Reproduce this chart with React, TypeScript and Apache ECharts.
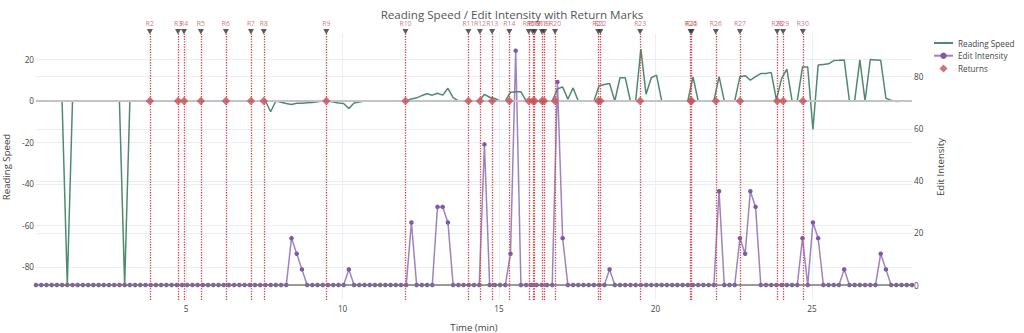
import React, { useEffect, useRef } from 'react';
import * as echarts from 'echarts';

// sampling of the session (minutes)
const startMin = 0.2;
const stepMin = 1 / 6;

const readingSpeed = [
  0, 0, 0, 0, 0, 0, -88.7, 0, 0, 0,
  0, 0, 0, 0, 0, 0, 0, -88.7, 0, 0,
  0, 0, 0, 0, 0, 0, 0, 0, 0, 0,
  0, 0, 0, 0, 0, 0, 0, 0, 0, 0,
  0, 0, 0, 0, 0, -5.2, 0, -0.6, -1.2, -1.7,
  -1.1, -1.1, -0.9, -0.8, -0.4, 0, 0, -0.5, -1, -1.2,
  -3.6, -1, -0.5, 0, 0, 0, 0, 0, 0, 0,
  0, 0, 1, 1.5, 2.6, 3.5, 2.8, 3.7, 2.8, 6.1,
  1.6, 0, 0, 0, 0, 0, 3.2, 1.8, 1.2, 0,
  0, 4.2, 4.4, 4.4, 0, 0, 0, 0, 0, 0,
  5.8, 6.8, 0.8, 6.3, 0, 0, 0, 0, 7.3, 7.9,
  8.4, 0, 11.2, 11.2, 0, 0, 25, 3.2, 11.2, 12.5,
  0, 0, 0, 0, 0, 0, 11.6, 0, 0, 0,
  0, 11.7, 0, 0, 0, 11.7, 12.2, 10, 11.7, 13.2,
  13.2, 13.8, 0.5, 10.9, 15.4, 0, 0, 16.4, 16.4, -13.7,
  17.3, 17.6, 17.9, 19.5, 19.6, 19.8, 0, 0, 19.8, 0,
  20, 19.8, 19.6, 1.3, 0.3, -0.3, 0, 0, 0,
];

const editIntensity = [
  0, 0, 0, 0, 0, 0, 0, 0, 0, 0,
  0, 0, 0, 0, 0, 0, 0, 0, 0, 0,
  0, 0, 0, 0, 0, 0, 0, 0, 0, 0,
  0, 0, 0, 0, 0, 0, 0, 0, 0, 0,
  0, 0, 0, 0, 0, 0, 0, 0, 0, 18,
  12, 6, 0, 0, 0, 0, 0, 0, 0, 0,
  6, 0, 0, 0, 0, 0, 0, 0, 0, 0,
  0, 0, 24, 0, 0, 0, 0, 30, 30, 24,
  0, 0, 0, 0, 0, 0, 54, 0, 0, 0,
  0, 12, 90, 0, 0, 0, 0, 0, 0, 0,
  78, 18, 0, 0, 0, 0, 0, 0, 0, 0,
  6, 0, 0, 0, 0, 0, 0, 0, 0, 0,
  0, 0, 0, 0, 0, 0, 0, 0, 0, 0,
  0, 36, 0, 0, 0, 18, 12, 36, 30, 0,
  0, 0, 0, 0, 0, 0, 0, 18, 0, 24,
  18, 0, 0, 0, 0, 6, 0, 0, 0, 0,
  0, 0, 12, 6, 0, 0, 0, 0, 0,
];

const returnTimes = [
  3.84, 4.74, 4.93, 5.47, 6.27, 7.07, 7.48, 9.48, 12.01, 14.02,
  14.39, 14.78, 15.33, 15.95, 16.08, 16.14, 16.37, 16.44, 16.79, 18.17,
  18.24, 19.51, 21.12, 21.16, 21.93, 22.70, 23.89, 24.08, 24.71,
];
const returnLabels = [
  'R2', 'R3', 'R4', 'R5', 'R6', 'R7', 'R8', 'R9', 'R10', 'R11',
  'R12', 'R13', 'R14', 'R15', 'R16', 'R17', 'R18', 'R19', 'R20', 'R21',
  'R22', 'R23', 'R24', 'R25', 'R26', 'R27', 'R28', 'R29', 'R30',
];

const xTicks = [5, 10, 15, 20, 25];
const leftTicks = [-80, -60, -40, -20, 0, 20];
const rightTicks = [0, 20, 40, 60, 80];

const GREEN = '#4f8a6f';
const PURPLE = '#7d5aa8';
const RED = '#c7525a';
const TEXT = '#444';
const GRID = '#ebeef3';
const FONT = 'Open Sans';

export default function App() {
  const ref = useRef<HTMLDivElement>(null);
  useEffect(() => {
    const chart = echarts.init(ref.current as HTMLDivElement, null, { renderer: 'svg' });
    const times = readingSpeed.map((_, i) => +(startMin + i * stepMin).toFixed(4));
    const xMin = times[0];
    const xMax = times[times.length - 1];

    const option: any = {
      animation: false,
      backgroundColor: '#fff',
      textStyle: { fontFamily: FONT },
      title: {
        text: 'Reading Speed / Edit Intensity with Return Marks',
        left: 'center',
        top: 3,
        textStyle: { fontFamily: FONT, fontSize: 11.6, fontWeight: 'normal', color: '#555' },
      },
      legend: {
        data: [
          { name: 'Reading Speed', itemStyle: { opacity: 0 } },
          { name: 'Edit Intensity' },
          { name: 'Returns', icon: 'path://M4,0L8,4L4,8L0,4Z' },
        ],
        orient: 'vertical',
        left: 933,
        top: 39,
        padding: 0,
        itemWidth: 19,
        itemHeight: 8,
        itemGap: 4.7,
        symbolKeepAspect: true,
        textStyle: { fontFamily: FONT, fontSize: 8.2, color: TEXT },
      },
      grid: [
        { left: 36, right: 112, top: 34, bottom: 33, outerBoundsMode: 'none' },
        { left: 36, right: 112, top: 18, height: 16, outerBoundsMode: 'none' },
      ],
      xAxis: [
        {
          type: 'value',
          gridIndex: 0,
          min: xMin,
          max: xMax,
          axisLine: { show: false },
          axisTick: { show: false, customValues: xTicks },
          axisLabel: { customValues: xTicks, fontSize: 8.2, color: TEXT, margin: 4, fontFamily: FONT },
          splitLine: { show: true, lineStyle: { color: GRID, width: 1 } },
          name: 'Time (min)',
          nameLocation: 'middle',
          nameGap: 22,
          nameTextStyle: { fontSize: 9.6, color: TEXT, fontFamily: FONT },
        },
        {
          type: 'value',
          gridIndex: 1,
          min: xMin,
          max: xMax,
          show: false,
        },
      ],
      yAxis: [
        {
          type: 'value',
          gridIndex: 0,
          min: -96,
          max: 32.3,
          position: 'left',
          axisLine: { show: false },
          axisTick: { show: false, customValues: leftTicks },
          axisLabel: { customValues: leftTicks, fontSize: 8.2, color: TEXT, margin: 2, fontFamily: FONT },
          splitLine: { show: true, lineStyle: { color: GRID, width: 1 } },
          name: 'Reading Speed',
          nameLocation: 'middle',
          nameRotate: 90,
          nameGap: 24,
          nameTextStyle: { fontSize: 9.6, color: TEXT, fontFamily: FONT },
        },
        {
          type: 'value',
          gridIndex: 0,
          min: -5.76,
          max: 96.4,
          position: 'right',
          axisLine: { show: false },
          axisTick: { show: false, customValues: rightTicks },
          axisLabel: { customValues: rightTicks, fontSize: 8.2, color: TEXT, margin: 2, fontFamily: FONT },
          splitLine: { show: true, lineStyle: { color: GRID, width: 1 } },
          name: 'Edit Intensity',
          nameLocation: 'middle',
          nameRotate: 90,
          nameGap: 23,
          nameTextStyle: { fontSize: 9.6, color: TEXT, fontFamily: FONT },
        },
        {
          type: 'value',
          gridIndex: 1,
          min: 0,
          max: 1,
          show: false,
        },
      ],
      series: [
        {
          name: 'zeroLeft',
          type: 'scatter',
          xAxisIndex: 0,
          yAxisIndex: 0,
          data: [],
          z: 1,
          silent: true,
          markLine: {
            silent: true,
            symbol: ['none', 'none'],
            label: { show: false },
            lineStyle: { color: '#c4c4c4', width: 2, type: 'solid' },
            data: [{ yAxis: 0 }],
          },
        },
        {
          name: 'zeroRight',
          type: 'scatter',
          xAxisIndex: 0,
          yAxisIndex: 1,
          data: [],
          z: 1,
          silent: true,
          markLine: {
            silent: true,
            symbol: ['none', 'none'],
            label: { show: false },
            lineStyle: { color: '#7a7a7a', width: 1.6, type: 'solid' },
            data: [{ yAxis: 0 }],
          },
        },
        {
          name: 'Reading Speed',
          type: 'line',
          xAxisIndex: 0,
          yAxisIndex: 0,
          symbol: 'none',
          z: 2,
          lineStyle: { color: GREEN, width: 1.5 },
          itemStyle: { color: GREEN },
          data: times.map((t, i) => [t, readingSpeed[i]]),
        },
        {
          name: 'Edit Intensity',
          type: 'line',
          xAxisIndex: 0,
          yAxisIndex: 1,
          symbol: 'circle',
          symbolSize: 4.5,
          showAllSymbol: true,
          z: 3,
          lineStyle: { color: PURPLE, width: 1.5, opacity: 0.75 },
          itemStyle: { color: PURPLE },
          data: times.map((t, i) => [t, editIntensity[i]]),
        },
        {
          name: 'returnLines',
          type: 'scatter',
          xAxisIndex: 0,
          yAxisIndex: 0,
          data: [],
          z: 4,
          silent: true,
          markLine: {
            silent: true,
            symbol: ['none', 'none'],
            label: { show: false },
            lineStyle: { color: '#d2454f', width: 1.3, type: 'dotted' },
            data: returnTimes.map((t) => ({ xAxis: t })),
          },
        },
        {
          name: 'Returns',
          type: 'scatter',
          xAxisIndex: 0,
          yAxisIndex: 0,
          symbol: 'diamond',
          symbolSize: 8.5,
          z: 5,
          itemStyle: { color: RED },
          data: returnTimes.map((t) => [t, 0]),
        },
        {
          name: 'returnTags',
          type: 'scatter',
          xAxisIndex: 1,
          yAxisIndex: 2,
          symbol: 'triangle',
          symbolRotate: 180,
          symbolSize: [6, 5.5],
          clip: false,
          z: 5,
          itemStyle: { color: '#333' },
          label: {
            show: true,
            position: 'top',
            distance: 1.5,
            fontSize: 6.8,
            color: RED,
            fontFamily: FONT,
            formatter: (p: any) => returnLabels[p.dataIndex],
          },
          data: returnTimes.map((t) => [t, 0.144]),
        },
      ],
    };
    chart.setOption(option);
    return () => chart.dispose();
  }, []);
  return (
    <div
      ref={ref}
      style={{ position: 'fixed', left: 0, top: 0, width: 1024, height: 333, background: '#fff' }}
    />
  );
}
